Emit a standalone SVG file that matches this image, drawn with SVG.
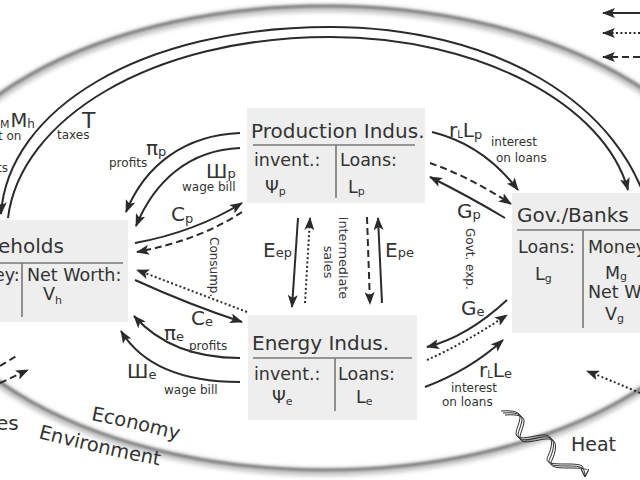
<svg xmlns="http://www.w3.org/2000/svg" width="640" height="480" viewBox="0 0 640 480">
<style>
.box{fill:#eeeeee}
.dv{stroke:#777;stroke-width:1.6;fill:none}
text{font-family:"DejaVu Sans","Liberation Sans",sans-serif;fill:#333}
.L{font-size:20px}
.B{font-size:17.5px}
.s{font-size:12px}
.a{fill:none;stroke:#2b2b2b;stroke-width:2;marker-end:url(#ah)}
.n{fill:none;stroke:#2b2b2b;stroke-width:2}
.dash{stroke-dasharray:7 4}
.dot{stroke-dasharray:2 2.4}
.h{fill:none;stroke:#2b2b2b;stroke-width:1}
</style>
<defs>
<marker id="ah" markerUnits="userSpaceOnUse" viewBox="0 0 13 10" refX="12" refY="5" markerWidth="13" markerHeight="10" orient="auto">
<path d="M0,0 L13,5 L0,10 L3,5 z" fill="#2b2b2b"/>
</marker>
<marker id="sh" markerUnits="userSpaceOnUse" viewBox="0 0 8 8" refX="7" refY="4" markerWidth="8" markerHeight="8" orient="auto">
<path d="M0,0 L8,4 L0,8" fill="none" stroke="#2b2b2b" stroke-width="1.2"/>
</marker>
<filter id="glow" x="-5%" y="-5%" width="110%" height="110%"><feGaussianBlur stdDeviation="2.2"/></filter>
<filter id="core" x="-5%" y="-5%" width="110%" height="110%"><feGaussianBlur stdDeviation="0.8"/></filter>
<path id="pEco" d="M91,420 Q133,428 182,441"/>
<path id="pEnv" d="M38,438 Q95,453 162,466"/>
</defs>

<g id="boundary">
<ellipse cx="325" cy="240" rx="415" ry="232" fill="none" stroke="#c4c4c4" stroke-width="8" filter="url(#glow)"/>
<ellipse cx="325" cy="238" rx="415" ry="232" fill="none" stroke="#808080" stroke-width="3" filter="url(#core)"/>
<text font-size="19.5px"><textPath href="#pEco">Economy</textPath></text>
<text font-size="19.5px"><textPath href="#pEnv">Environment</textPath></text>
<text x="-4" y="430" class="L">es</text>
</g>

<g id="legend">
<line x1="640" y1="13" x2="603" y2="13" class="a"/>
<line x1="640" y1="33" x2="603" y2="33" class="a dot"/>
<line x1="640" y1="57" x2="603" y2="57" class="a dash"/>
</g>

<g id="households">
<rect x="-10" y="220" width="138" height="102" class="box"/>
<text x="-2" y="253" class="L">eholds</text>
<line x1="0" y1="263" x2="123" y2="263" class="dv"/>
<line x1="22" y1="263" x2="22" y2="317" class="dv"/>
<text x="-6" y="281" class="B">ey:</text>
<text x="27" y="281" class="B">Net Worth:</text>
<text x="43" y="300" class="B">V<tspan font-size="11px" dy="4">h</tspan></text>
</g>

<g id="production">
<rect x="247" y="108" width="178" height="95" class="box"/>
<text x="251" y="138" class="L">Production Indus.</text>
<line x1="253" y1="145" x2="415" y2="145" class="dv"/>
<line x1="336" y1="145" x2="336" y2="198" class="dv"/>
<text x="254" y="166" class="B">invent.:</text>
<text x="340" y="166" class="B">Loans:</text>
<text x="265" y="193" class="B">Ψ<tspan font-size="11px" dy="2">p</tspan></text>
<text x="348" y="193" class="B">L<tspan font-size="11px" dy="2">p</tspan></text>
</g>

<g id="energy">
<rect x="248" y="315" width="169" height="105" class="box"/>
<text x="252" y="350" class="L">Energy Indus.</text>
<line x1="253" y1="358" x2="412" y2="358" class="dv"/>
<line x1="335" y1="358" x2="335" y2="411" class="dv"/>
<text x="254" y="380" class="B">invent.:</text>
<text x="338" y="380" class="B">Loans:</text>
<text x="272" y="403" class="B">Ψ<tspan font-size="11px" dy="2">e</tspan></text>
<text x="356" y="403" class="B">L<tspan font-size="11px" dy="2">e</tspan></text>
</g>

<g id="govbanks">
<rect x="512" y="193" width="140" height="140" class="box"/>
<text x="517" y="222" class="L">Gov./Banks</text>
<line x1="517" y1="230" x2="645" y2="230" class="dv"/>
<line x1="583" y1="230" x2="583" y2="328" class="dv"/>
<text x="518" y="253" class="B">Loans:</text>
<text x="535" y="280" class="B">L<tspan font-size="11px" dy="2">g</tspan></text>
<text x="588" y="253" class="B">Money</text>
<text x="605" y="279" class="B">M<tspan font-size="11px" dy="1">g</tspan></text>
<text x="588" y="298" class="B">Net W</text>
<text x="605" y="320" class="B">V<tspan font-size="11px" dy="2">g</tspan></text>
</g>

<g id="connectors">
<!-- big arcs -->
<path d="M652,222 C625,100 490,27 330,27 C140,27 8,110 1,214" class="a"/>
<path d="M8,218 C20,120 150,37 330,37 C480,37 605,105 628,190" class="a"/>
<!-- production to households -->
<path d="M240,133 C185,135 145,165 126,212" class="a"/>
<path d="M240,148 C190,150 155,180 136,226" class="a"/>
<path d="M135,243 Q195,232 242,203" class="a"/>
<path d="M242,212 Q200,240 137,252" class="a dash"/>
<!-- energy to households -->
<path d="M135,280 Q190,305 242,322" class="a"/>
<path d="M247,312 L137,270" class="a dot"/>
<path d="M240,358 C195,358 160,345 134,316" class="a"/>
<path d="M240,382 C190,382 145,370 121,331" class="a"/>
<!-- between industries -->
<path d="M298,218 L292,307" class="a"/>
<path d="M305,303 L310,218" class="a dot"/>
<path d="M367,217 L370,304" class="a dash"/>
<path d="M382,303 L378,218" class="a"/>
<!-- production / gov -->
<path d="M432,132 C465,140 495,160 518,190" class="a"/>
<path d="M430,163 Q470,177 511,204" class="a dash"/>
<path d="M505,218 Q470,197 430,177" class="a"/>
<!-- energy / gov -->
<path d="M507,300 Q467,337 427,347" class="a"/>
<path d="M427,360 Q465,343 507,315" class="a dot"/>
<path d="M425,387 Q470,370 503,340" class="a"/>
<!-- edge arrows -->
<path d="M640,393 Q612,381 587,371" class="a dot"/>
<path d="M0,366 L18,355" class="n dash"/>
<path d="M0,383 L28,370" class="a dash"/>
<!-- heat -->
<g id="heat">
<path d="M501,411 C513,410 521,412 520,418 C519,426 513,434 518,437 C524,440 538,434 546,435 C554,436 552,448 548,456 C544,464 553,464 568,464 C578,464 583,465 583,468" class="h"/>
<path d="M503,413 C515,412 523,414 522,420 C521,428 515,436 520,439 C526,442 540,436 548,437 C556,438 554,450 550,458 C546,466 555,466 570,466 C580,466 585,467 585,476" class="h" marker-end="url(#sh)"/>
<path d="M505,415 C517,414 525,416 524,422 C523,430 517,438 522,441 C528,444 542,438 550,439 C558,440 556,452 552,460 C548,468 557,468 572,468 C580,468 587,469 587,470" class="h"/>
</g>
</g>

<g id="labels">
<text x="0" y="128" font-size="11px">M</text>
<text x="10.5" y="127" font-size="19.5px">M<tspan font-size="12px" dy="1">h</tspan></text>
<text x="-2" y="140" class="s">t on</text>
<text x="-3" y="172" class="s">ts</text>
<text x="82" y="128" font-size="22px">T</text>
<text x="57" y="139" class="s">taxes</text>
<text x="146" y="155" class="L">π<tspan font-size="13px" dy="1">p</tspan></text>
<text x="109" y="167" class="s">profits</text>
<text x="206" y="178" class="L">Ш<tspan font-size="13px">p</tspan></text>
<text x="182" y="191" class="s">wage bill</text>
<text x="171" y="221" class="L">C<tspan font-size="13px" dy="2">p</tspan></text>
<text transform="translate(210,237) rotate(90)" class="s">Consump.</text>
<text x="191" y="325" class="L">C<tspan font-size="13px" dy="1">e</tspan></text>
<text x="164" y="340" class="L">π<tspan font-size="13px" dy="1">e</tspan></text>
<text x="189" y="350" class="s">profits</text>
<text x="127" y="378" class="L">Ш<tspan font-size="13px" dy="1">e</tspan></text>
<text x="164" y="394" class="s">wage bill</text>
<text x="263" y="257" class="L">E<tspan font-size="13px">ep</tspan></text>
<text x="385" y="257" class="L">E<tspan font-size="13px">pe</tspan></text>
<text transform="translate(339,258) rotate(90)" font-size="12.8px" text-anchor="middle">intermediate</text>
<text transform="translate(324,262) rotate(90)" font-size="12.8px" text-anchor="middle">sales</text>
<text x="449" y="137" class="L">r<tspan font-size="10px" dy="1">L</tspan><tspan dy="-1">L</tspan><tspan font-size="13px" dy="2">p</tspan></text>
<text x="491" y="146" class="s">interest</text>
<text x="496" y="162" class="s">on loans</text>
<text x="457" y="218" class="L">G<tspan font-size="13px" dy="1">p</tspan></text>
<text transform="translate(466,228) rotate(90)" class="s">Govt. exp.</text>
<text x="461" y="315" class="L">G<tspan font-size="13px" dy="1">e</tspan></text>
<text x="479" y="377" class="L">r<tspan font-size="10px" dy="1">L</tspan><tspan dy="-1">L</tspan><tspan font-size="13px" dy="1">e</tspan></text>
<text x="497" y="392" class="s" text-anchor="end">interest</text>
<text x="442" y="406" class="s">on loans</text>
<text x="571" y="451" font-size="19px">Heat</text>
</g>
</svg>
